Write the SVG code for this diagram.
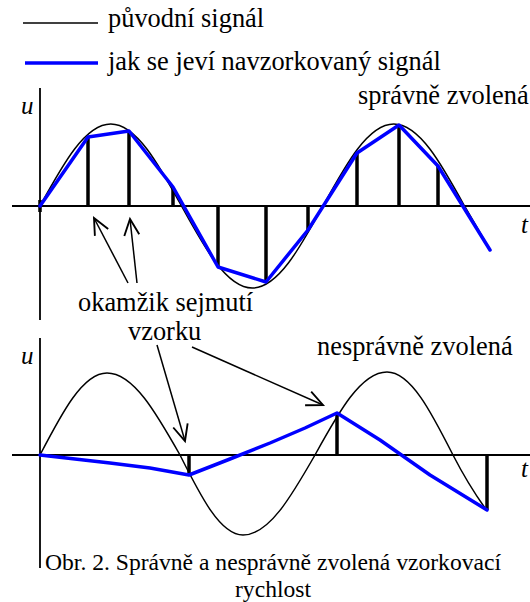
<svg xmlns="http://www.w3.org/2000/svg" width="530" height="602" viewBox="0 0 530 602">
<style>
text{font-family:"Liberation Serif","Times New Roman",serif;fill:#000}
.lab{font-size:26.4px}
.it{font-family:"Liberation Serif",serif;font-style:italic;font-size:25px}
.cap{font-size:23.6px}
.orig{fill:none;stroke:#000;stroke-width:1.5;stroke-linejoin:round}
.samp{fill:none;stroke:#0000ff;stroke-width:3.5;stroke-linejoin:round;stroke-linecap:round}
.axis{stroke:#000;stroke-width:1.8;fill:none}
.bar{stroke:#000;stroke-width:3.5;fill:none}
.arr{stroke:#000;stroke-width:1.5;fill:none;marker-end:url(#ah)}
</style>
<defs>
<marker id="ah" markerUnits="userSpaceOnUse" markerWidth="20" markerHeight="20" refX="0" refY="0" viewBox="-14 -8 16 16" orient="auto" overflow="visible">
<path d="M-13,-6 L0,0 L-13,6" fill="none" stroke="#000" stroke-width="1.5"/>
</marker>
</defs>
<rect width="530" height="602" fill="#fff"/>

<g id="legend">
<line x1="23" y1="23" x2="98" y2="23" stroke="#000" stroke-width="1.5"/>
<text class="lab" x="108" y="27" font-family="Liberation Serif, serif">původní signál</text>
<line x1="25" y1="63" x2="98" y2="63" stroke="#0000ff" stroke-width="3.5"/>
<text class="lab" x="108" y="70" font-family="Liberation Serif, serif">jak se jeví navzorkovaný signál</text>
</g>

<g id="chart-top">
<line class="axis" x1="40" y1="88" x2="40" y2="320"/>
<line class="axis" x1="12" y1="206" x2="530" y2="206"/>
<text class="it" x="21" y="114">u</text>
<text class="it" x="521" y="233">t</text>
<text class="lab" x="358" y="104" font-family="Liberation Serif, serif">správně zvolená</text>
<path class="orig" d="M40,206 C63.07,163.99 85.15,124 110.75,124 C136.35,124 158.43,163.99 181.5,206 C204.57,248.01 226.65,288 252.25,288 C277.85,288 299.93,248.01 323,206 C346.07,163.99 368.15,124 393.75,124 C419.35,124 441.43,163.99 464.5,206 L490,250"/>
<g class="bar">
<line x1="40" y1="200" x2="40" y2="212"/>
<line x1="88" y1="206" x2="88" y2="137"/>
<line x1="129" y1="206" x2="129" y2="131"/>
<line x1="173" y1="206" x2="173" y2="187"/>
<line x1="218" y1="206" x2="218" y2="267"/>
<line x1="266" y1="206" x2="266" y2="282"/>
<line x1="308" y1="206" x2="308" y2="230"/>
<line x1="357" y1="206" x2="357" y2="153"/>
<line x1="399" y1="206" x2="399" y2="125"/>
<line x1="438" y1="206" x2="438" y2="166"/>
</g>
<polyline class="samp" points="40,206 88,137 129,131 173,187 218,267 266,282 308,230 357,153 399,125 438,166 490,250"/>
</g>

<g id="label-okamzik">
<text class="lab" x="78" y="311" font-family="Liberation Serif, serif">okamžik sejmutí</text>
<text class="lab" x="128" y="340" font-family="Liberation Serif, serif">vzorku</text>
</g>

<g id="chart-bottom">
<line class="axis" x1="40" y1="338" x2="40" y2="568"/>
<line class="axis" x1="12" y1="455" x2="530" y2="455"/>
<text class="it" x="21" y="364">u</text>
<text class="it" x="521" y="477">t</text>
<text class="lab" x="317" y="355" font-family="Liberation Serif, serif">nesprávně zvolená</text>
<path class="orig" d="M40,455 C61.85,413 82.75,373 107,373 C133.42,373 156.19,413 180,455 C200.54,496 220.2,535 243,535 C269.06,535 291.52,496 315,455 C338.48,412.5 360.94,372 387,372 C410.89,372 431.48,412.5 453,455 Q467.6,483.5 485,508"/>
<g class="bar">
<line x1="189" y1="455" x2="189" y2="475"/>
<line x1="337" y1="455" x2="337" y2="413"/>
<line x1="487" y1="455" x2="487" y2="510"/>
</g>
<polyline class="samp" points="40,455 75,459 110,463 150,468 189,475 230,459 270,443 305,428 337,413 380,440 430,475 487,510"/>
</g>

<g id="caption">
<text class="cap" x="45" y="570">Obr. 2. Správně a nesprávně zvolená vzorkovací</text>
<text class="cap" x="235" y="597">rychlost</text>
</g>

<g id="connectors">
<line class="arr" x1="128" y1="283" x2="94" y2="218"/>
<line class="arr" x1="137" y1="283" x2="130" y2="219"/>
<line class="arr" x1="157" y1="345" x2="185" y2="441"/>
<line class="arr" x1="192" y1="347" x2="323" y2="405"/>
</g>
</svg>
